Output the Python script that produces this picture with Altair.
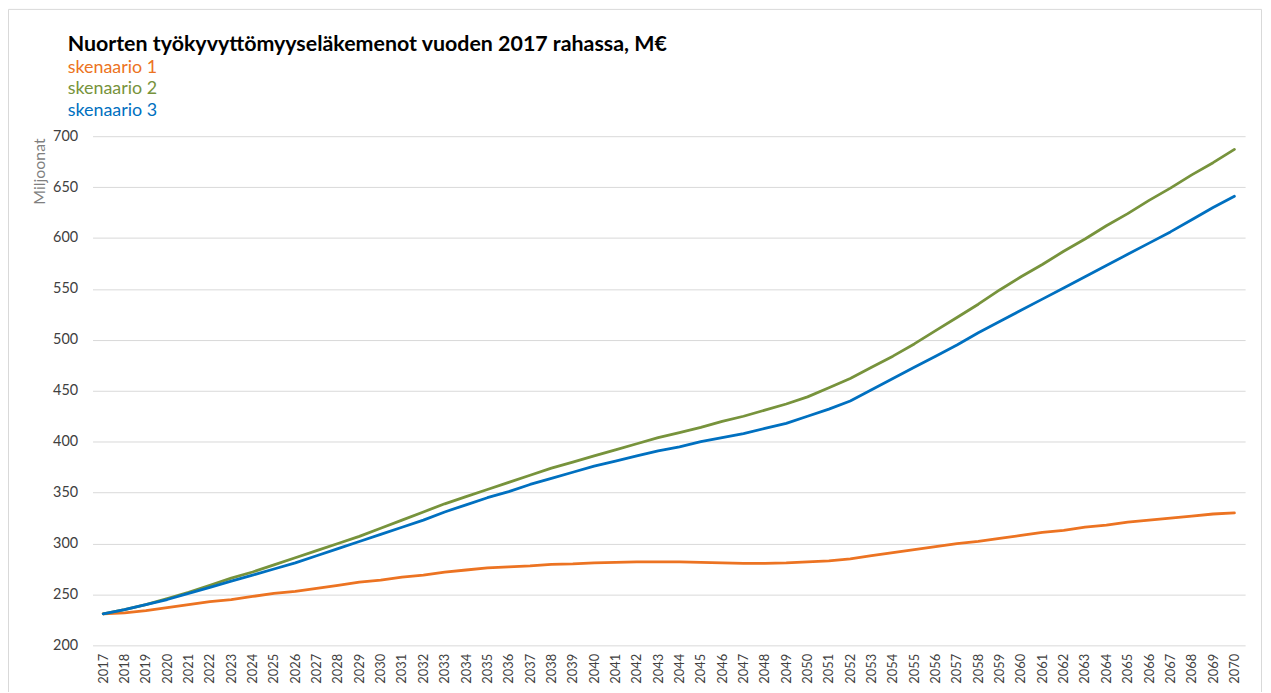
import altair as alt
import pandas as pd

years = list(range(2017, 2071))

series_names = ["skenaario 1", "skenaario 2", "skenaario 3"]
series_colors = ["#EC7322", "#77933C", "#0070C0"]

skenaario_1 = [231, 232, 234, 237, 240, 243, 245, 248, 251, 253,
               256, 259, 262, 264, 267, 269, 272, 274, 276, 277,
               278, 279.5, 280, 281, 281.5, 282, 282, 282, 281.5, 281,
               280.5, 280.5, 281, 282, 283, 285, 288, 291, 294, 297,
               300, 302, 305, 308, 311, 313, 316, 318, 321, 323,
               325, 327, 329, 330]

skenaario_2 = [231, 235, 240, 246, 252, 259, 266, 272, 279, 286,
               293, 300, 307, 315, 323, 331, 339, 346, 353, 360,
               367, 374, 380, 386, 392, 398, 404, 409, 414, 420,
               425, 431, 437, 444, 453, 462, 473, 484, 496, 509,
               522, 535, 549, 562, 574, 587, 599, 612, 624, 637,
               649, 662, 674, 687]

skenaario_3 = [231, 235, 240, 245, 251, 257, 263, 269, 275, 281,
               288, 295, 302, 309, 316, 323, 331, 338, 345, 351,
               358, 364, 370, 376, 381, 386, 391, 395, 400, 404,
               408, 413, 418, 425, 432, 440, 451, 462, 473, 484,
               495, 507, 518, 529, 540, 551, 562, 573, 584, 595,
               606, 618, 630, 641]

y_ticks = [200, 250, 300, 350, 400, 450, 500, 550, 600, 650, 700]

title_text = "Nuorten työkyvyttömyyseläkemenot vuoden 2017 rahassa, M€"
y_title = "Miljoonat"

rows = []
for name, vals in zip(series_names, [skenaario_1, skenaario_2, skenaario_3]):
    for yr, v in zip(years, vals):
        rows.append({"vuosi": str(yr), "arvo": v, "sarja": name})
df = pd.DataFrame(rows)

FONT = "Lato"
W, H = 1159, 512

lines = alt.Chart(df).mark_line(strokeWidth=2.8, strokeCap="round", strokeJoin="round").encode(
    x=alt.X("vuosi:O", title=None, sort=None,
            axis=alt.Axis(labelAngle=270, labelFontSize=13, labelColor="#404040",
                          labelFont=FONT, domain=False, ticks=False, labelPadding=8,
                          grid=False)),
    y=alt.Y("arvo:Q", title=y_title, scale=alt.Scale(domain=[200, 700], nice=False, zero=False),
            axis=alt.Axis(values=y_ticks, labelFontSize=14.5, labelColor="#404040", labelFont=FONT,
                          domain=False, ticks=False, labelPadding=15,
                          gridColor="#D9D9D9", gridWidth=1,
                          titleFont=FONT, titleFontSize=16, titleFontWeight="normal",
                          titleColor="#7F7F7F", titleAngle=270, titleX=-53, titleY=35,
                          titleAlign="center", titleBaseline="middle")),
    color=alt.Color("sarja:N", scale=alt.Scale(domain=series_names, range=series_colors), legend=None),
)

one = pd.DataFrame({"a": [0]})

title = alt.Chart(one).mark_text(text=title_text, font=FONT, fontSize=21.5, fontWeight="bold",
                                 align="left", baseline="alphabetic", color="#000000").encode(
    x=alt.value(-25), y=alt.value(-86))

legend_layers = []
for i, (name, col) in enumerate(zip(series_names, series_colors)):
    legend_layers.append(
        alt.Chart(one).mark_text(text=name, font=FONT, fontSize=18, align="left",
                                 baseline="alphabetic", color=col).encode(
            x=alt.value(-25), y=alt.value(-64 + 22 * i)))

frame = alt.Chart(one).mark_rect(fillOpacity=0, stroke="#D9D9D9", strokeWidth=1).encode(
    x=alt.value(-84.5), x2=alt.value(1175.5), y=alt.value(-127.5), y2=alt.value(700))

chart = alt.layer(frame, lines, title, *legend_layers).properties(
    width=W, height=H,
    autosize=alt.AutoSizeParams(type="none"),
    padding={"left": 85, "top": 127, "right": 18, "bottom": 45},
    background="white",
).configure_view(stroke=None)

chart.save("out.html", embed_options={"renderer": "svg", "actions": False})
